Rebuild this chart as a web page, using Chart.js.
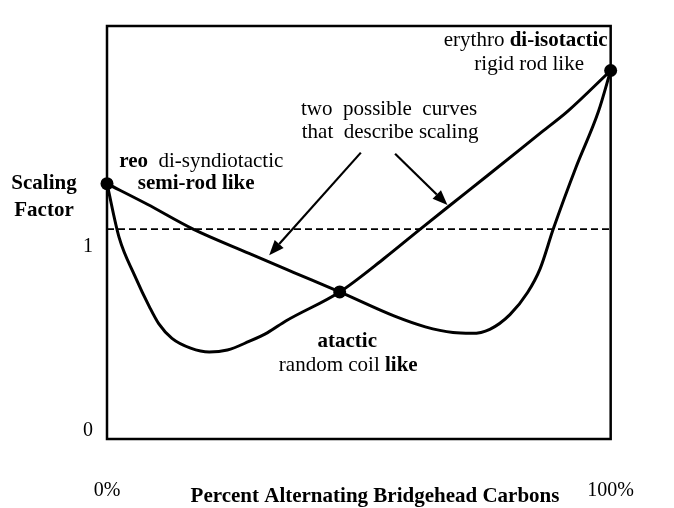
<!DOCTYPE html>
<html>
<head>
<meta charset="utf-8">
<script src="https://cdn.jsdelivr.net/npm/chart.js@4"></script>
<style>
    body { margin: 0; background: #fff; }
    canvas { display: block; }
</style>
</head>
<body>
<canvas id="scalingChart" width="674" height="508"></canvas>
<script>

// percent alternating bridgehead carbons vs scaling factor
const xTicks = [0, 100];
const yTicks = [0, 1];

const curveAX = [0, 8, 17.1, 28.2, 37, 46.2, 57.1, 63.2, 68.7, 72.4, 76, 80, 83.5, 86, 88.6, 93.1, 97.6, 100];
const curveAY = [1.342, 1.23, 1.095, 0.963, 0.86, 0.753, 0.621, 0.563, 0.532, 0.528, 0.55, 0.63, 0.75, 0.88, 1.095, 1.43, 1.737, 1.958];

const curveBX = [0, 2.4, 5.5, 8.5, 10.3, 12.9, 16.6, 20.3, 23.9, 28.2, 31.9, 35.5, 46.2, 55, 62.2, 68, 75.5, 86.4, 91.5, 100];
const curveBY = [1.342, 1.05, 0.842, 0.668, 0.579, 0.5, 0.447, 0.426, 0.437, 0.484, 0.532, 0.595, 0.753, 0.935, 1.095, 1.222, 1.385, 1.625, 1.737, 1.958];

const markerX = [0, 46.2, 100];
const markerY = [1.342, 0.753, 1.958];

const referenceLevel = 1.095;

// annotation text, [text, bold] segments
const notes = [
    { x: 99.4, y: 2.121, align: "right", parts: [["erythro ", false], ["di-isotactic", true]] },
    { x: 94.7, y: 1.989, align: "right", parts: [["rigid rod like", false]] },
    { x: 56.0, y: 1.747, align: "center", parts: [["two  possible  curves", false]] },
    { x: 56.2, y: 1.621, align: "center", parts: [["that  describe scaling", false]] },
    { x: 35.0, y: 1.463, align: "right", parts: [["threo", true], ["  di-syndiotactic", false]], clipLeft: true },
    { x: 17.7, y: 1.342, align: "center", parts: [["semi-rod like", true]] },
    { x: 47.7, y: 0.484, align: "center", parts: [["atactic", true]] },
    { x: 47.9, y: 0.353, align: "center", parts: [["random coil ", false], ["like", true]] }
];

// arrows from text to curves
const arrows = [
    { fromX: 50.4, fromY: 1.511, toX: 32.2, toY: 0.953 },
    { fromX: 57.2, fromY: 1.505, toX: 67.6, toY: 1.226 }
];

const xTitle = "Percent Alternating Bridgehead Carbons";
const yTitle = ["Scaling", "Factor"];

const serif = '"Liberation Serif", "Times New Roman", serif';

function toPoints(xs, ys) {
    return xs.map((x, i) => ({ x: x, y: ys[i] }));
}

function drawParts(ctx, parts, x, y, align, size) {
    const widths = parts.map(p => {
        ctx.font = (p[1] ? "bold " : "") + size + "px " + serif;
        return ctx.measureText(p[0]).width;
    });
    const total = widths.reduce((a, b) => a + b, 0);
    let start = x;
    if (align === "center") start = x - total / 2;
    if (align === "right") start = x - total;
    ctx.textAlign = "left";
    ctx.textBaseline = "middle";
    parts.forEach((p, i) => {
        ctx.font = (p[1] ? "bold " : "") + size + "px " + serif;
        ctx.fillText(p[0], start, y);
        start += widths[i];
    });
}

const decorations = {
    id: "decorations",

    beforeDatasetsDraw(chart) {
        const ctx = chart.ctx;
        const area = chart.chartArea;
        ctx.save();
        ctx.strokeStyle = "#000";
        ctx.lineWidth = 2.5;
        ctx.strokeRect(area.left, area.top, area.right - area.left, area.bottom - area.top);
        ctx.restore();
    },

    afterDraw(chart) {
        const ctx = chart.ctx;
        const xs = chart.scales.x;
        const ys = chart.scales.y;
        const area = chart.chartArea;

        ctx.save();
        ctx.fillStyle = "#000";

        notes.forEach(n => {
            ctx.save();
            if (n.clipLeft) {
                ctx.beginPath();
                ctx.rect(area.left + 12, 0, chart.width, chart.height);
                ctx.clip();
            }
            drawParts(ctx, n.parts, xs.getPixelForValue(n.x), ys.getPixelForValue(n.y), n.align, 21);
            ctx.restore();
        });

        arrows.forEach(a => {
            const x0 = xs.getPixelForValue(a.fromX);
            const y0 = ys.getPixelForValue(a.fromY);
            const x1 = xs.getPixelForValue(a.toX);
            const y1 = ys.getPixelForValue(a.toY);
            const ang = Math.atan2(y1 - y0, x1 - x0);
            const head = 15;
            const half = 6;
            const bx = x1 - head * Math.cos(ang);
            const by = y1 - head * Math.sin(ang);

            ctx.strokeStyle = "#000";
            ctx.lineWidth = 2.2;
            ctx.beginPath();
            ctx.moveTo(x0, y0);
            ctx.lineTo(bx, by);
            ctx.stroke();

            ctx.beginPath();
            ctx.moveTo(x1, y1);
            ctx.lineTo(bx + half * Math.sin(ang), by - half * Math.cos(ang));
            ctx.lineTo(bx - half * Math.sin(ang), by + half * Math.cos(ang));
            ctx.closePath();
            ctx.fill();
        });

        // axis titles
        ctx.textAlign = "center";
        ctx.textBaseline = "middle";
        ctx.font = "bold 21px " + serif;
        ctx.fillText(yTitle[0], 44, ys.getPixelForValue(1.342));
        ctx.fillText(yTitle[1], 44, ys.getPixelForValue(1.342) + 27);
        ctx.fillText(xTitle, 375, 497);

        ctx.restore();
    }
};

const ctx =
    document
    .getElementById("scalingChart")
    .getContext("2d");

new Chart(ctx, {

    type: "scatter",

    data: {
        datasets: [
            {
                data: toPoints([0, 100], [referenceLevel, referenceLevel]),
                showLine: true,
                borderColor: "#000",
                borderWidth: 1.6,
                borderDash: [7, 4],
                pointRadius: 0
            },
            {
                data: toPoints(curveAX, curveAY),
                showLine: true,
                borderColor: "#000",
                borderWidth: 3,
                cubicInterpolationMode: "monotone",
                pointRadius: 0
            },
            {
                data: toPoints(curveBX, curveBY),
                showLine: true,
                borderColor: "#000",
                borderWidth: 3,
                cubicInterpolationMode: "monotone",
                pointRadius: 0
            },
            {
                data: toPoints(markerX, markerY),
                showLine: false,
                pointRadius: 6.5,
                pointBackgroundColor: "#000",
                pointBorderWidth: 0,
                clip: false
            }
        ]
    },

    options: {
        responsive: false,
        animation: false,
        devicePixelRatio: 1,

        layout: {
            padding: { top: 12, right: 24, left: 0, bottom: 0 }
        },

        plugins: {
            legend: { display: false },
            tooltip: { enabled: false }
        },

        scales: {

            x: {
                type: "linear",
                min: 0,
                max: 100,
                grid: { display: false, drawTicks: false },
                border: { display: false },
                afterBuildTicks: scale => {
                    scale.ticks = xTicks.map(v => ({ value: v }));
                },
                afterFit: scale => {
                    scale.height = 69;
                },
                ticks: {
                    color: "#000",
                    padding: 40,
                    font: { family: serif, size: 20 },
                    callback: v => v + "%"
                }
            },

            y: {
                min: -0.047,
                max: 2.2,
                grid: { display: false, drawTicks: false },
                border: { display: false },
                afterBuildTicks: scale => {
                    scale.ticks = yTicks.map(v => ({ value: v }));
                },
                afterFit: scale => {
                    scale.width = 107;
                },
                ticks: {
                    color: "#000",
                    padding: 14,
                    font: { family: serif, size: 20 }
                }
            }

        }
    },

    plugins: [decorations]

});
</script>
</body>
</html>
